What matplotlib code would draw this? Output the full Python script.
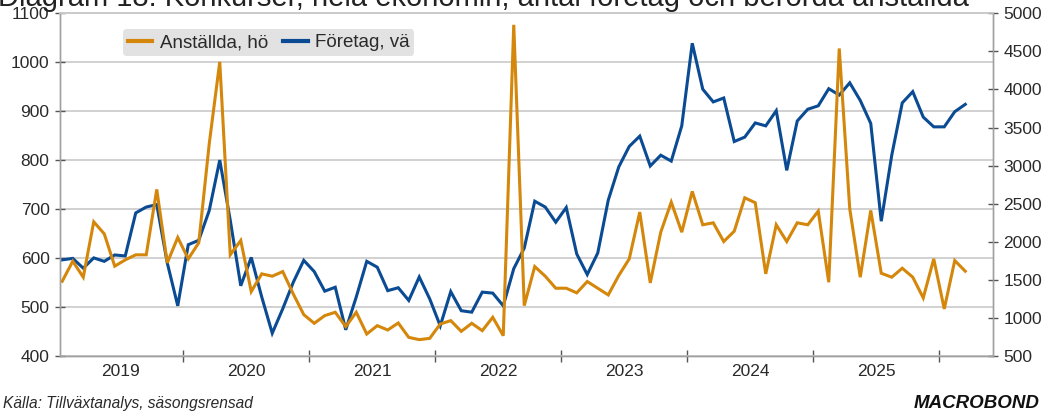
import numpy as np
import matplotlib
matplotlib.use('Agg')
import matplotlib.pyplot as plt
from matplotlib.lines import Line2D

# Monthly data, Jan 2019 - Mar 2026
start_year = 2019
foretag = [596, 599, 579, 600, 593, 606, 604, 692, 704, 709, 590, 502,
           627, 636, 697, 800, 677, 543, 601, 520, 446, 496, 550, 595,
           572, 532, 540, 453, 520, 593, 581, 533, 539, 513, 561, 516,
           461, 531, 492, 489, 530, 528, 502, 578, 620, 716, 704, 673,
           703, 608, 566, 610, 718, 786, 828, 849, 788, 810, 798, 870,
           1039, 945, 919, 927, 838, 847, 876, 870, 901, 779, 880, 904,
           911, 946, 933, 958, 922, 875, 675, 810, 917, 940, 888, 868,
           868, 899, 914]
anstallda = [1479, 1742, 1532, 2260, 2102, 1677, 1760, 1826, 1826, 2686, 1720, 2054,
             1773, 1984, 3288, 4363, 1826, 2015, 1343, 1576, 1545, 1606, 1312, 1040,
             926, 1027, 1071, 882, 1071, 785, 895, 838, 930, 741, 711, 728,
             917, 961, 820, 926, 829, 1005, 763, 4850, 1158, 1672, 1545, 1387,
             1387, 1326, 1475, 1387, 1299, 1554, 1773, 2388, 1457, 2124, 2519, 2124,
             2660, 2221, 2247, 2001, 2137, 2576, 2511, 1576, 2221, 2001, 2247, 2221,
             2401, 1466, 4539, 2432, 1532, 2410, 1584, 1532, 1650, 1532, 1260, 1773,
             1115, 1751, 1611]
years = [2019, 2020, 2021, 2022, 2023, 2024, 2025]

blue = '#0A4B93'
orange = '#D4870A'
grid_c = '#CACACA'
spine_c = '#A0A0A0'
text_c = '#2A2A2A'

plt.rcParams['font.family'] = ['Liberation Sans', 'DejaVu Sans']

x = start_year + (np.arange(len(foretag)) + 0.5) / 12

fig = plt.figure(figsize=(10.46, 4.12), dpi=100)
ax = fig.add_axes([60/1046, 1 - 355.7/412, (993 - 60)/1046, (355.7 - 13.4)/412])
ax2 = ax.twinx()

ax.plot(x, foretag, color=blue, lw=2.2, solid_joinstyle='miter')
ax2.plot(x, anstallda, color=orange, lw=2.2, solid_joinstyle='miter')

ax.set_xlim(2019 + 3/126, 2026 + 54/126)
ax.set_ylim(400, 1100)
ax2.set_ylim(500, 5000)
ax.set_yticks(range(400, 1101, 100))
ax2.set_yticks(range(500, 5001, 500))
ax.yaxis.grid(True, color=grid_c, lw=1.2)
ax.set_axisbelow(True)

# year boundaries as ticks, labels in the middle of the year
ax.set_xticks(range(2020, 2027))
ax.set_xticklabels([])
ax.set_xticks([y + 0.5 for y in years], minor=True)
ax.set_xticklabels([str(y) for y in years], minor=True)
ax.tick_params(axis='x', which='major', direction='inout', length=8, color='#555555', width=1)
ax.tick_params(axis='x', which='minor', length=0, labelsize=12.5, labelcolor=text_c, pad=6)
ax.tick_params(axis='y', direction='inout', length=7, color='#555555', width=1,
               labelsize=12.5, labelcolor=text_c, pad=4)
ax2.tick_params(axis='y', direction='inout', length=7, color='#555555', width=1,
                labelsize=12.5, labelcolor=text_c, pad=4)

for a in (ax, ax2):
    for s in ('left', 'right', 'bottom'):
        a.spines[s].set_color(spine_c)
        a.spines[s].set_linewidth(1.0)
    a.spines['top'].set_color(grid_c)
    a.spines['top'].set_linewidth(1.2)

handles = [Line2D([], [], color=orange, lw=3), Line2D([], [], color=blue, lw=3)]
leg = fig.legend(handles, ['Anställda, hö', 'Företag, vä'], ncol=2,
                 loc='upper left', bbox_to_anchor=(114/1046, 1 - 20/412),
                 fontsize=13.5, frameon=True, fancybox=True, facecolor='#E2E2E2',
                 edgecolor='none', framealpha=1, handlelength=1.3, handletextpad=0.4,
                 columnspacing=0.8, borderpad=0.25, labelcolor=text_c)

# title is cut off at the top edge in the original
fig.text(-0.002, 1 - 6/412, 'Diagram 18: Konkurser, hela ekonomin, antal företag och berörda anställda',
         fontsize=21, color='#222222', ha='left', va='baseline')
fig.text(3/1046, 1 - 408/412, 'Källa: Tillväxtanalys, säsongsrensad', fontsize=11.2,
         style='italic', color=text_c, ha='left', va='baseline')
fig.text(1040/1046, 1 - 408/412, 'MACROBOND', fontsize=13.5, fontweight='bold',
         style='italic', color='#111111', ha='right', va='baseline')

fig.savefig('out.png', dpi=100)
